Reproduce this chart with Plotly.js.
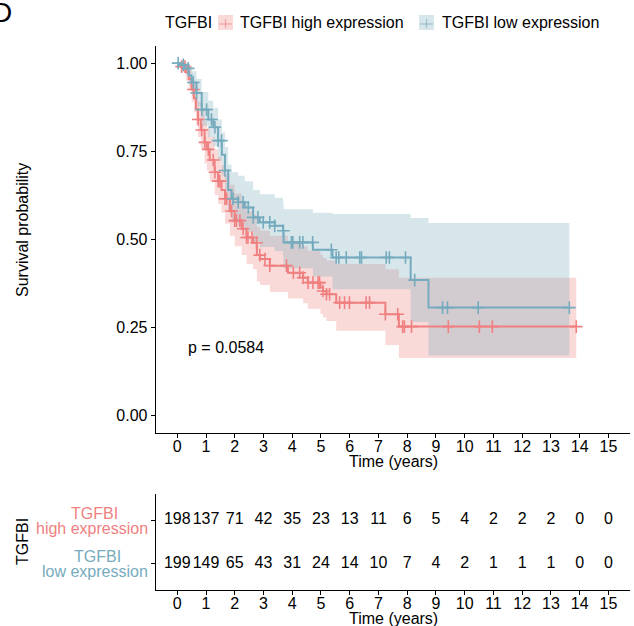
<!DOCTYPE html>
<html>
<head>
<meta charset="utf-8">
<script src="https://cdn.plot.ly/plotly-3.0.1.min.js"></script>
<style>html,body{margin:0;padding:0;background:#fff;}#chart{width:634px;height:626px;}</style>
</head>
<body>
<div id="chart"></div>
<script>
// ---------------- DATA ----------------
const groupName = "TGFBI";
const labelHigh = "TGFBI high expression";
const labelLow = "TGFBI low expression";

// High expression: step times, survival, lower CI, upper CI
const tHigh  = [0, 0.15, 0.30, 0.40, 0.50, 0.58, 0.65, 0.72, 0.82, 0.95, 1.03, 1.13, 1.30, 1.42, 1.54, 1.66, 1.83, 2.00, 2.24, 2.41, 2.64, 2.77, 2.88, 3.22, 3.85, 4.38, 4.54, 4.98, 5.07, 5.19, 5.53, 7.24, 7.71];
const sHigh  = [1.00, 0.99, 0.975, 0.955, 0.925, 0.90, 0.87, 0.84, 0.81, 0.775, 0.755, 0.725, 0.69, 0.665, 0.64, 0.615, 0.58, 0.553, 0.53, 0.505, 0.49, 0.455, 0.444, 0.425, 0.405, 0.391, 0.377, 0.363, 0.353, 0.344, 0.32, 0.287, 0.252];
const loHigh = [1.00, 0.975, 0.95, 0.925, 0.89, 0.86, 0.825, 0.79, 0.755, 0.715, 0.695, 0.665, 0.625, 0.60, 0.575, 0.545, 0.51, 0.48, 0.455, 0.43, 0.415, 0.38, 0.37, 0.35, 0.332, 0.318, 0.303, 0.288, 0.278, 0.268, 0.24, 0.20, 0.163];
const hiHigh = [1.00, 1.00, 0.995, 0.985, 0.96, 0.94, 0.915, 0.89, 0.865, 0.835, 0.815, 0.79, 0.755, 0.735, 0.71, 0.685, 0.655, 0.63, 0.605, 0.58, 0.57, 0.535, 0.525, 0.51, 0.495, 0.48, 0.468, 0.455, 0.447, 0.44, 0.43, 0.415, 0.391];
const endHigh = 13.88;
const censHigh = [0.15, 0.27, 0.56, 0.73, 0.85, 0.96, 1.08, 1.25, 1.31, 1.42, 1.48, 1.66, 1.72, 1.89, 2.0, 2.06, 2.18, 2.29, 2.41, 2.46, 2.6, 2.76, 2.87, 3.05, 3.22, 3.80, 4.04, 4.26, 4.38, 4.55, 4.72, 4.90, 4.95, 5.07, 5.19, 5.30, 5.65, 5.82, 5.99, 6.57, 6.69, 7.24, 7.67, 7.84, 7.90, 8.15, 9.43, 10.51, 10.96, 13.88];

// Low expression
const tLow  = [0, 0.12, 0.27, 0.40, 0.50, 0.67, 0.85, 1.08, 1.25, 1.42, 1.55, 1.66, 1.77, 1.89, 2.12, 2.35, 2.64, 2.87, 3.39, 3.68, 3.70, 4.72, 5.40, 8.12, 8.74];
const sLow  = [1.00, 0.995, 0.985, 0.965, 0.945, 0.915, 0.868, 0.84, 0.818, 0.78, 0.74, 0.695, 0.64, 0.615, 0.605, 0.59, 0.562, 0.548, 0.538, 0.524, 0.491, 0.47, 0.448, 0.384, 0.306];
const loLow = [1.00, 0.985, 0.968, 0.94, 0.914, 0.877, 0.822, 0.79, 0.765, 0.723, 0.68, 0.633, 0.575, 0.548, 0.538, 0.522, 0.493, 0.478, 0.467, 0.452, 0.418, 0.394, 0.358, 0.265, 0.17];
const hiLow = [1.00, 1.00, 1.00, 0.99, 0.977, 0.955, 0.918, 0.893, 0.873, 0.84, 0.803, 0.762, 0.712, 0.69, 0.68, 0.665, 0.64, 0.628, 0.618, 0.605, 0.585, 0.575, 0.572, 0.56, 0.546];
const endLow = 13.64;
const censLow = [0.03, 0.21, 0.38, 0.56, 0.67, 0.85, 1.02, 1.19, 1.31, 1.42, 1.54, 1.66, 1.94, 2.12, 2.29, 2.47, 2.64, 2.81, 2.99, 3.22, 3.39, 3.69, 3.97, 4.02, 4.26, 4.37, 4.71, 5.36, 5.53, 5.62, 5.88, 6.35, 6.41, 7.27, 7.38, 7.94, 8.26, 9.23, 9.40, 10.47, 13.64];

// Risk table
const riskTimes = [0,1,2,3,4,5,6,7,8,9,10,11,12,13,14,15];
const riskHigh = [198,137,71,42,35,23,13,11,6,5,4,2,2,2,0,0];
const riskLow  = [199,149,65,43,31,24,14,10,7,4,2,1,1,1,0,0];

const pText = "p = 0.0584";
const xTicks = [0,1,2,3,4,5,6,7,8,9,10,11,12,13,14,15];
const yTicks = [0, 0.25, 0.5, 0.75, 1];
const yTickText = ["0.00","0.25","0.50","0.75","1.00"];

// ---------------- STYLE ----------------
const colHigh = "#F08080", colLow = "#76ABBE";
const fillHigh = "rgba(240,128,128,0.3)", fillLow = "rgba(118,171,190,0.3)";
const FONT = "Liberation Sans, Arial, sans-serif";
const W = 634, H = 626;
const px = x => x / W, py = y => 1 - y / H;

function stepAt(ts, ss, t) { let v = ss[0]; for (let i = 0; i < ts.length; i++) { if (ts[i] <= t) v = ss[i]; } return v; }
function ext(arr, endT) { return arr.concat([endT]); }
function extV(arr) { return arr.concat([arr[arr.length - 1]]); }

const traces = [];
function addGroup(ts, ss, lo, hi, endT, cens, col, fill) {
  traces.push({x: ext(ts, endT), y: extV(lo), type: 'scatter', mode: 'lines', line: {shape: 'hv', width: 0, color: col}, hoverinfo: 'skip', showlegend: false, xaxis: 'x', yaxis: 'y'});
  traces.push({x: ext(ts, endT), y: extV(hi), type: 'scatter', mode: 'lines', line: {shape: 'hv', width: 0, color: col}, fill: 'tonexty', fillcolor: fill, hoverinfo: 'skip', showlegend: false, xaxis: 'x', yaxis: 'y'});
}
function addLine(ts, ss, endT, cens, col) {
  traces.push({x: ext(ts, endT), y: extV(ss), type: 'scatter', mode: 'lines', line: {shape: 'hv', width: 2, color: col}, showlegend: false, xaxis: 'x', yaxis: 'y'});
  traces.push({x: cens, y: cens.map(t => stepAt(ts, ss, t)), type: 'scatter', mode: 'markers', marker: {symbol: 'cross-thin', size: 9, line: {width: 1.6, color: col}, color: col}, showlegend: false, xaxis: 'x', yaxis: 'y', cliponaxis: false});
}
addGroup(tHigh, sHigh, loHigh, hiHigh, endHigh, censHigh, colHigh, fillHigh);
addGroup(tLow, sLow, loLow, hiLow, endLow, censLow, colLow, fillLow);
addLine(tHigh, sHigh, endHigh, censHigh, colHigh);
addLine(tLow, sLow, endLow, censLow, colLow);

// risk table numbers
traces.push({x: riskTimes, y: riskTimes.map(() => 2), text: riskHigh.map(String), mode: 'text', type: 'scatter', textfont: {family: FONT, size: 16, color: '#000'}, showlegend: false, xaxis: 'x2', yaxis: 'y2', cliponaxis: false});
traces.push({x: riskTimes, y: riskTimes.map(() => 1), text: riskLow.map(String), mode: 'text', type: 'scatter', textfont: {family: FONT, size: 16, color: '#000'}, showlegend: false, xaxis: 'x2', yaxis: 'y2', cliponaxis: false});

const axCommon = {showgrid: false, zeroline: false, showline: true, linecolor: '#000', linewidth: 1, ticks: 'outside', ticklen: 4, tickwidth: 1, tickcolor: '#000', tickfont: {family: FONT, size: 16, color: '#000'}, fixedrange: true};
const xDom = [px(155.7), px(630)];

const layout = {
  width: W, height: H, margin: {l: 0, r: 0, t: 0, b: 0},
  paper_bgcolor: '#fff', plot_bgcolor: '#fff', showlegend: false,
  font: {family: FONT, size: 16, color: '#000'},
  xaxis: Object.assign({}, axCommon, {domain: xDom, range: [-0.75, 15.75], tickvals: xTicks, anchor: 'y', ticklabelstandoff: -5}),
  yaxis: Object.assign({}, axCommon, {domain: [py(433), py(45.5)], range: [-0.05, 1.05], tickvals: yTicks, ticktext: yTickText, anchor: 'x'}),
  xaxis2: Object.assign({}, axCommon, {domain: xDom, range: [-0.75, 15.75], tickvals: xTicks, anchor: 'y2', ticklabelstandoff: -5}),
  yaxis2: Object.assign({}, axCommon, {domain: [py(590), py(494)], range: [0.4, 2.6], tickvals: [1, 2], showticklabels: false, anchor: 'x2'}),
  annotations: [
    {text: 'D', xref: 'paper', yref: 'paper', x: px(-10), y: py(12), xanchor: 'left', yanchor: 'middle', showarrow: false, font: {family: FONT, size: 28, color: '#000'}},
    {text: 'Survival probability', xref: 'paper', yref: 'paper', x: px(22), y: py(230), textangle: -90, showarrow: false, xanchor: 'center', yanchor: 'middle', font: {family: FONT, size: 16}},
    {text: 'Time (years)', xref: 'paper', yref: 'paper', x: px(393), y: py(461), showarrow: false, xanchor: 'center', yanchor: 'middle', font: {family: FONT, size: 16}},
    {text: pText, xref: 'x', yref: 'y', x: 0.3, y: 0.194, showarrow: false, xanchor: 'left', yanchor: 'middle', font: {family: FONT, size: 16}},
    {text: 'Time (years)', xref: 'paper', yref: 'paper', x: px(393), y: py(618), showarrow: false, xanchor: 'center', yanchor: 'middle', font: {family: FONT, size: 16}},
    {text: groupName, xref: 'paper', yref: 'paper', x: px(22), y: py(542), textangle: -90, showarrow: false, xanchor: 'center', yanchor: 'middle', font: {family: FONT, size: 16}},
    {text: 'TGFBI', xref: 'paper', yref: 'y2', x: px(94), y: 2, yshift: 7, showarrow: false, xanchor: 'center', yanchor: 'middle', font: {family: FONT, size: 16, color: colHigh}},
    {text: 'high expression', xref: 'paper', yref: 'y2', x: px(150), y: 2, yshift: -8, showarrow: false, xanchor: 'right', yanchor: 'middle', font: {family: FONT, size: 16, color: colHigh}},
    {text: 'TGFBI', xref: 'paper', yref: 'y2', x: px(97), y: 1, yshift: 7, showarrow: false, xanchor: 'center', yanchor: 'middle', font: {family: FONT, size: 16, color: colLow}},
    {text: 'low expression', xref: 'paper', yref: 'y2', x: px(150), y: 1, yshift: -8, showarrow: false, xanchor: 'right', yanchor: 'middle', font: {family: FONT, size: 16, color: colLow}},
    // legend
    {text: groupName, xref: 'paper', yref: 'paper', x: px(163), y: py(22), showarrow: false, xanchor: 'left', yanchor: 'middle', font: {family: FONT, size: 16}},
    {text: labelHigh, xref: 'paper', yref: 'paper', x: px(238), y: py(22), showarrow: false, xanchor: 'left', yanchor: 'middle', font: {family: FONT, size: 16}},
    {text: labelLow, xref: 'paper', yref: 'paper', x: px(440), y: py(22), showarrow: false, xanchor: 'left', yanchor: 'middle', font: {family: FONT, size: 16}}
  ],
  shapes: [
    {type: 'rect', xref: 'paper', yref: 'paper', x0: px(218), x1: px(233), y0: py(15), y1: py(30), fillcolor: fillHigh, line: {width: 0}},
    {type: 'line', xref: 'paper', yref: 'paper', x0: px(219), x1: px(232), y0: py(24), y1: py(24), line: {color: colHigh, width: 1.2}, opacity: 0.6},
    {type: 'line', xref: 'paper', yref: 'paper', x0: px(225.5), x1: px(225.5), y0: py(19), y1: py(28), line: {color: colHigh, width: 1.2}, opacity: 0.6},
    {type: 'rect', xref: 'paper', yref: 'paper', x0: px(419), x1: px(434), y0: py(15), y1: py(30), fillcolor: fillLow, line: {width: 0}},
    {type: 'line', xref: 'paper', yref: 'paper', x0: px(420), x1: px(433), y0: py(24), y1: py(24), line: {color: colLow, width: 1.2}, opacity: 0.6},
    {type: 'line', xref: 'paper', yref: 'paper', x0: px(426.5), x1: px(426.5), y0: py(19), y1: py(28), line: {color: colLow, width: 1.2}, opacity: 0.6}
  ]
};

Plotly.newPlot('chart', traces, layout, {displayModeBar: false, staticPlot: true});
</script>
</body>
</html>
